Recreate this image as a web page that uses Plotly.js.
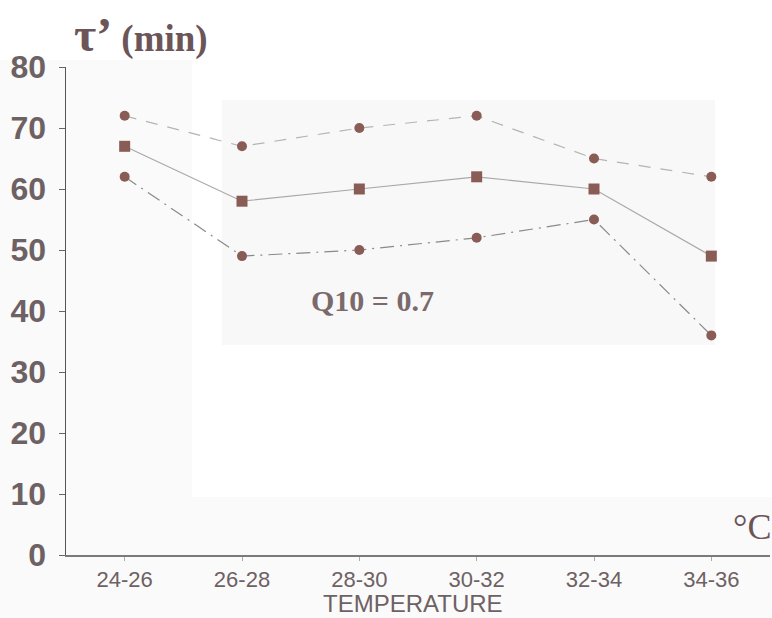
<!DOCTYPE html>
<html>
<head>
<meta charset="utf-8">
<script src="https://cdn.plot.ly/plotly-3.0.1.min.js"></script>
<style>
html,body{margin:0;padding:0;background:#fafafa;}
#chart{width:772px;height:618px;}
</style>
</head>
<body>
<div id="chart"></div>
<script>
// Data
const categories = ["24-26", "26-28", "28-30", "30-32", "32-34", "34-36"];
const upperValues = [72, 67, 70, 72, 65, 62];
const middleValues = [67, 58, 60, 62, 60, 49];
const lowerValues = [62, 49, 50, 52, 55, 36];
const yTickValues = [0, 10, 20, 30, 40, 50, 60, 70, 80];
const yTitleSymbol = "\u03C4\u2019";
const yTitleUnit = " (min)";
const xTitle = "TEMPERATURE";
const unitLabel = "\u00B0C";
const noteLabel = "Q10 = 0.7";

const markerColor = "#8a5c56";
const textColor = "#6e6164";

const traces = [
  {x: categories, y: upperValues, type: "scatter", mode: "lines+markers",
   line: {color: "#b4b4b4", width: 1.2, dash: "12px,10px"},
   marker: {symbol: "circle", size: 10, color: markerColor}},
  {x: categories, y: middleValues, type: "scatter", mode: "lines+markers",
   line: {color: "#a8a8a8", width: 1.2},
   marker: {symbol: "square", size: 11, color: markerColor}},
  {x: categories, y: lowerValues, type: "scatter", mode: "lines+markers",
   line: {color: "#8a8a8a", width: 1.2, dash: "14px,6px,2px,6px"},
   marker: {symbol: "circle", size: 10, color: markerColor}}
];

// plot area: l=66, width=704, t=67, height=488
function px(x){ return (x - 66) / 704; }
function py(y){ return (555 - y) / 488; }

const layout = {
  width: 772, height: 618,
  margin: {l: 66, r: 2, t: 67, b: 63},
  paper_bgcolor: "#fafafa",
  plot_bgcolor: "rgba(0,0,0,0)",
  showlegend: false,
  xaxis: {
    type: "category", range: [-0.5, 5.5],
    showgrid: false, zeroline: false,
    showline: true, linecolor: "#7a7a7a", linewidth: 1.5,
    ticks: "outside", ticklen: 4, tickcolor: "#aaaaaa", tickwidth: 1,
    tickfont: {family: "Arial, Liberation Sans, sans-serif", size: 22, color: textColor}
  },
  yaxis: {
    range: [0, 80], tickvals: yTickValues,
    showgrid: false, zeroline: false,
    showline: true, linecolor: "#555555", linewidth: 1.5,
    ticks: "outside", ticklen: 6, tickcolor: "#666666", tickwidth: 1,
    ticklabelstandoff: 6,
    tickfont: {family: "Arial, Liberation Sans, sans-serif", size: 32, color: textColor, weight: "bold"}
  },
  shapes: [
    {type: "rect", xref: "paper", yref: "paper", layer: "below",
     x0: px(0), x1: px(772), y0: py(60), y1: py(0),
     fillcolor: "#ffffff", line: {width: 0}},
    {type: "rect", xref: "paper", yref: "paper", layer: "below",
     x0: px(192), x1: px(772), y0: py(497), y1: py(0),
     fillcolor: "#ffffff", line: {width: 0}},
    {type: "rect", xref: "paper", yref: "paper", layer: "below",
     x0: px(222), x1: px(715), y0: py(345), y1: py(100),
     fillcolor: "#f8f8f8", line: {width: 0}}
  ],
  annotations: [
    {text: "<b><span style='font-size:48px'>" + yTitleSymbol + "</span><span style='font-size:37px'>" + yTitleUnit + "</span></b>",
     xref: "paper", yref: "paper",
     x: px(72), y: py(35), xanchor: "left", yanchor: "middle", showarrow: false,
     font: {family: "Liberation Serif, Times New Roman, serif", size: 37, color: "#6b5558"}},
    {text: unitLabel, xref: "paper", yref: "paper",
     x: px(773), y: py(527), xanchor: "right", yanchor: "middle", showarrow: false,
     font: {family: "Liberation Serif, Times New Roman, serif", size: 36, color: "#6b5558"}},
    {text: "<b>" + noteLabel + "</b>", xref: "paper", yref: "paper",
     x: px(372), y: py(300), xanchor: "center", yanchor: "middle", showarrow: false,
     font: {family: "Liberation Serif, Times New Roman, serif", size: 30, color: "#7a6a6c"}},
    {text: xTitle, xref: "paper", yref: "paper",
     x: px(413), y: py(603), xanchor: "center", yanchor: "middle", showarrow: false,
     font: {family: "Arial, Liberation Sans, sans-serif", size: 24, color: textColor}}
  ]
};

Plotly.newPlot("chart", traces, layout, {displayModeBar: false, staticPlot: true});
</script>
</body>
</html>
